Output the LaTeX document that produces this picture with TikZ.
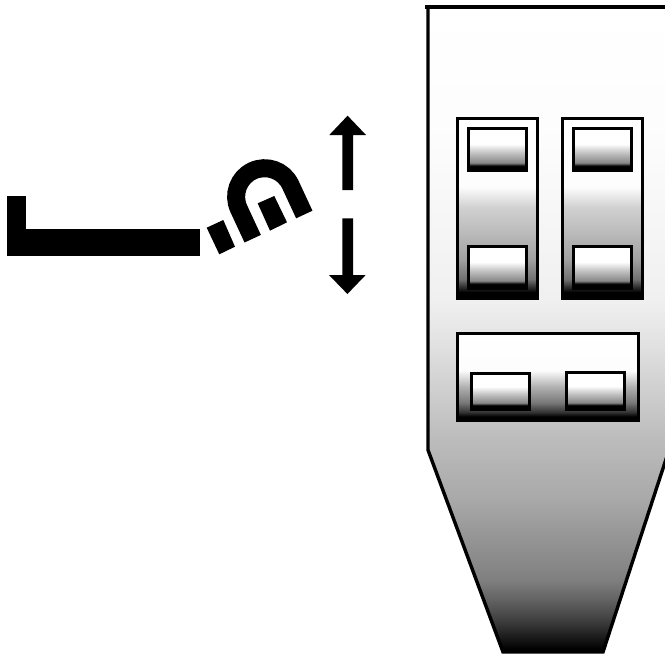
\documentclass[tikz,border=0pt]{standalone}
\pgfdeclareverticalshading{bodyshade}{100bp}{color(0bp)=(black); color(25.2bp)=(black); color(27.5bp)=(black!75); color(29bp)=(black!62); color(30.6bp)=(black!50); color(36.8bp)=(black!34); color(42.2bp)=(black!25); color(49.2bp)=(black!11); color(52.3bp)=(black!6); color(65bp)=(black!1); color(75bp)=(white); color(100bp)=(white)}
\pgfdeclareverticalshading{tallshade}{100bp}{color(0bp)=(black); color(26.6bp)=(black); color(30.2bp)=(black!56); color(35.7bp)=(black!37); color(43.1bp)=(black!27); color(50.3bp)=(black!18); color(55.8bp)=(black!1); color(75bp)=(white); color(100bp)=(white)}
\pgfdeclareverticalshading{wideshade}{100bp}{color(0bp)=(black); color(27bp)=(black); color(29.5bp)=(black!80); color(35bp)=(black!53); color(44bp)=(black!31); color(53.5bp)=(black!1); color(75bp)=(white); color(100bp)=(white)}
\pgfdeclareverticalshading{keyshade}{100bp}{color(0bp)=(black); color(30bp)=(black); color(33.5bp)=(black!47); color(45bp)=(black!25); color(56bp)=(white); color(100bp)=(white)}
\tikzset{
  bodyline/.style={shading=bodyshade,draw=black,line width=3.4pt},
  tallsw/.style={shading=tallshade,draw=black,line width=3pt},
  widesw/.style={shading=wideshade,draw=black,line width=3pt},
  keysw/.style={shading=keyshade,draw=black,line width=3pt},
}
\begin{document}
\begin{tikzpicture}[x=1pt,y=-1pt]
\useasboundingbox (0,0) rectangle (665,654);
\fill[white] (0,0) rectangle (665,654);
% body
\begin{scope}
\clip (0,0) rectangle (665,654);
\path[bodyline] (428,7) -- (428,450) -- (503,652) -- (603,652) -- (670,447) -- (670,7) -- cycle;
\draw[line width=3.4pt] (425,7) -- (670,7);
\end{scope}
% switches
\path[tallsw] (457,118) rectangle (537,298);
\path[tallsw] (562,118) rectangle (642,298);
\path[keysw] (468,128) rectangle (526,170);
\path[keysw] (573,128) rectangle (631,170);
\path[keysw] (468,246) rectangle (526,288);
\path[keysw] (573,246) rectangle (631,288);
\path[widesw] (457,333) rectangle (638,420);
\path[keysw] (471,373) rectangle (529,409);
\path[keysw] (566,372) rectangle (624,409);
% bar
\fill (7,196) rectangle (26,256);
\fill (26,229) rectangle (200,256);
\fill (206.7,227.7) -- (223.3,220) -- (235,246.7) -- (219.3,254.3) -- cycle;
% magnet
\draw[line width=18pt] (252.7,238.7) -- (238.8,208.8) arc[start angle=154.9,end angle=334.9,radius=28.5] -- (304.3,214.5);
\fill (257.7,203.3) -- (274.3,196) -- (287,222.3) -- (270,230.7) -- cycle;
% arrows
\fill (342.3,190) -- (342.3,135) -- (329.3,135) -- (347.6,115.7) -- (366,135) -- (353,135) -- (353,190) -- cycle;
\fill (342.3,218.3) -- (342.3,275) -- (329,275) -- (347.4,294) -- (365.7,275) -- (353,275) -- (353,218.3) -- cycle;
\end{tikzpicture}
\end{document}
